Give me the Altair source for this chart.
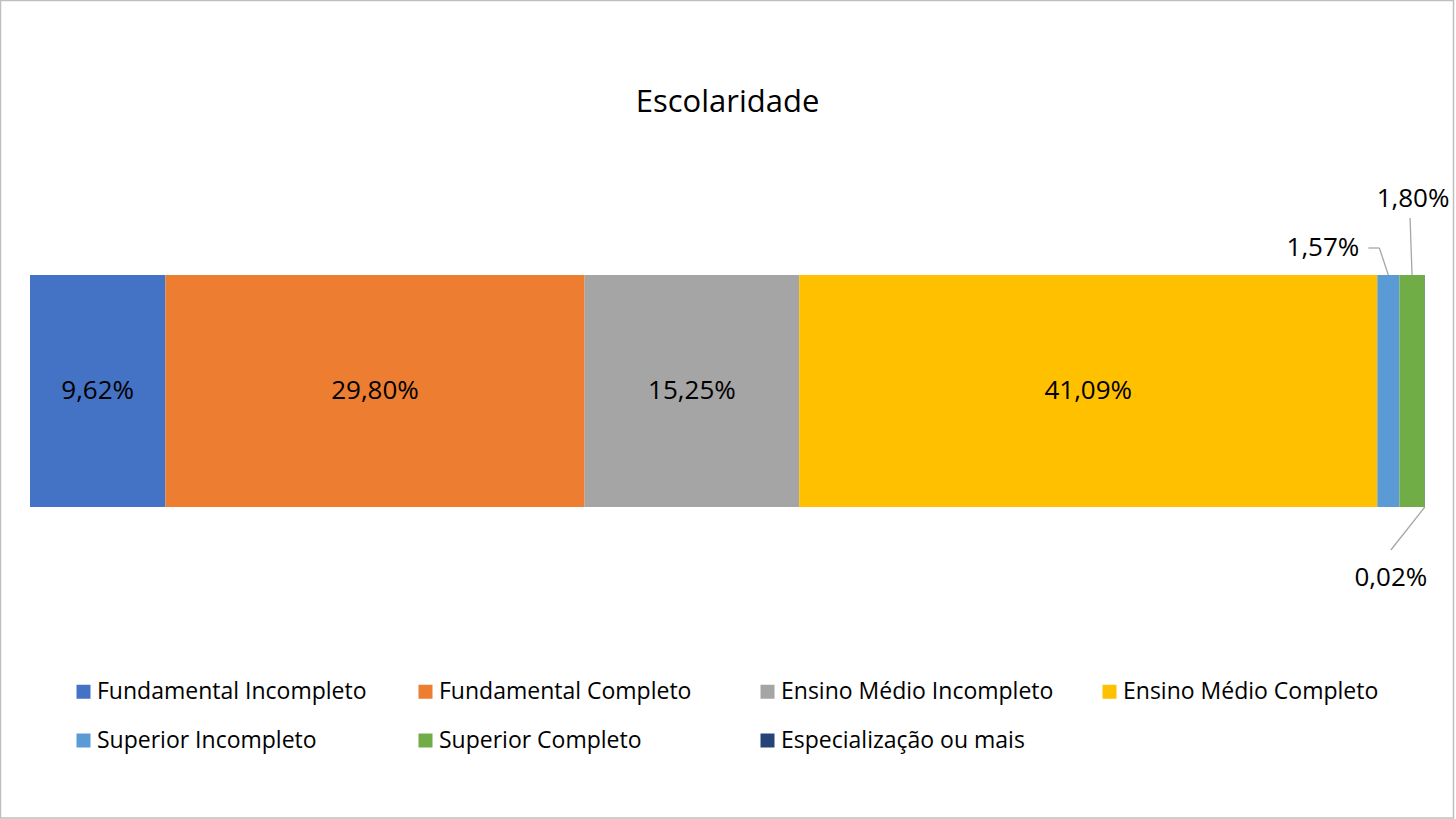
import altair as alt
import pandas as pd

categories = [
    "Fundamental Incompleto",
    "Fundamental Completo",
    "Ensino Médio Incompleto",
    "Ensino Médio Completo",
    "Superior Incompleto",
    "Superior Completo",
    "Especialização ou mais",
]
values = [9.62, 29.80, 15.25, 41.09, 1.57, 1.80, 0.02]
labels = ["9,62%", "29,80%", "15,25%", "41,09%", "1,57%", "1,80%", "0,02%"]
colors = ["#4472C4", "#ED7D31", "#A5A5A5", "#FFC000", "#5B9BD5", "#70AD47", "#264478"]

df = pd.DataFrame({
    "categoria": categories,
    "valor": values,
    "rotulo": labels,
    "ordem": list(range(len(categories))),
    "linha": ["Escolaridade"] * len(categories),
})

FONT = "Open Sans"
W, H = 1395, 232

base = (
    alt.Chart(df)
    .transform_stack(stack="valor", groupby=[], sort=[alt.SortField("ordem")], as_=["x0", "x1"])
    .transform_joinaggregate(total="sum(valor)")
    .transform_calculate(
        x0n="datum.x0 / datum.total",
        x1n="datum.x1 / datum.total",
        xm="(datum.x0 + datum.x1) / 2 / datum.total",
    )
)

xscale = alt.Scale(domain=[0, 1], nice=False, zero=False)

bars = base.mark_bar(stroke=None).encode(
    x=alt.X("x0n:Q", scale=xscale, axis=None),
    x2="x1n:Q",
    y=alt.Y("linha:N", axis=None, scale=alt.Scale(paddingInner=0, paddingOuter=0)),
    color=alt.Color(
        "categoria:N",
        scale=alt.Scale(domain=categories, range=colors),
        sort=categories,
        legend=alt.Legend(
            title=None,
            orient="none",
            legendX=42,
            legendY=405,
            direction="horizontal",
            columns=4,
            gridAlign="all",
            columnPadding=44,
            rowPadding=25,
            symbolType="square",
            symbolSize=196,
            symbolStrokeWidth=0,
            symbolOpacity=1,
            labelFont=FONT,
            labelFontSize=23,
            labelColor="#000000",
            labelOffset=2,
            labelLimit=400,
        ),
    ),
    order=alt.Order("ordem:Q"),
)

inside = base.transform_filter("datum.valor >= 5").mark_text(
    font=FONT, fontSize=26, color="#000000", baseline="middle", align="center"
).encode(
    x=alt.X("xm:Q", scale=xscale),
    y=alt.Y("linha:N"),
    text="rotulo:N",
)

def one(cat):
    return base.transform_filter(alt.datum.categoria == cat)

# Superior Incompleto callout
t1 = one(categories[4]).mark_text(
    font=FONT, fontSize=26, color="#000000", baseline="middle", align="right", dx=-29
).encode(x=alt.X("xm:Q", scale=xscale), y=alt.value(-27), text="rotulo:N")
r1a = one(categories[4]).mark_rule(color="#A6A6A6", strokeWidth=1.3, x2Offset=-9).encode(
    x=alt.X("xm:Q", scale=xscale), x2="xm:Q", y=alt.value(0), y2=alt.value(-27)
)
r1b = one(categories[4]).mark_rule(color="#A6A6A6", strokeWidth=1.3, xOffset=-9, x2Offset=-20).encode(
    x=alt.X("xm:Q", scale=xscale), x2="xm:Q", y=alt.value(-27), y2=alt.value(-27)
)

# Superior Completo callout
t2 = one(categories[5]).mark_text(
    font=FONT, fontSize=26, color="#000000", baseline="middle", align="center", dx=1
).encode(x=alt.X("xm:Q", scale=xscale), y=alt.value(-76), text="rotulo:N")
r2 = one(categories[5]).mark_rule(color="#A6A6A6", strokeWidth=1.3, x2Offset=-2).encode(
    x=alt.X("xm:Q", scale=xscale), x2="xm:Q", y=alt.value(0), y2=alt.value(-57)
)

# Especialização callout
t3 = one(categories[6]).mark_text(
    font=FONT, fontSize=26, color="#000000", baseline="middle", align="center", dx=-34
).encode(x=alt.X("xm:Q", scale=xscale), y=alt.value(303), text="rotulo:N")
r3 = one(categories[6]).mark_rule(color="#A6A6A6", strokeWidth=1.3, x2Offset=-34).encode(
    x=alt.X("xm:Q", scale=xscale), x2="xm:Q", y=alt.value(H), y2=alt.value(275)
)

frame = alt.Chart(pd.DataFrame({"f": [0]})).mark_rect(
    fill=None, stroke="#BFBFBF", strokeWidth=1.5
).encode(
    x=alt.value(-29.5), x2=alt.value(1423.5), y=alt.value(-274.5), y2=alt.value(543)
)

chart = (
    alt.layer(bars, inside, r1a, r1b, t1, r2, t2, r3, t3, frame)
    .properties(
        width=W,
        height=H,
        title=alt.TitleParams(
            "Escolaridade", font=FONT, fontSize=31, fontWeight="normal",
            color="#000000", anchor="middle", offset=-143, frame="group",
            baseline="alphabetic",
        ),
        autosize=alt.AutoSizeParams(type="none"),
        padding={"left": 30, "top": 275, "right": 31, "bottom": 312},
        background="white",
    )
    .configure_view(stroke=None)
)

chart.save("out.html", embed_options={"renderer": "svg", "actions": False})
